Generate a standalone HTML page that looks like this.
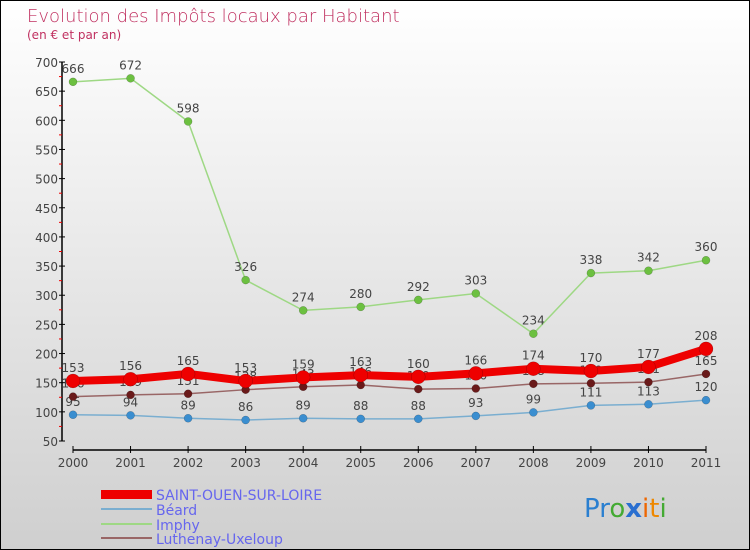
<!DOCTYPE html>
<html><head><meta charset="utf-8"><style>
body{margin:0;}
#c{width:748px;height:548px;border:1px solid #000;background:linear-gradient(#ffffff,#cfcfcf);position:relative;overflow:hidden;font-family:"DejaVu Sans","Liberation Sans",sans-serif;}
</style></head><body>
<div id="c">
<svg id="s" width="748" height="548" xmlns="http://www.w3.org/2000/svg">
<text x="26" y="21" font-size="18" fill="#c03060" font-family="DejaVu Sans, sans-serif" font-weight="200">Evolution des Impôts locaux par Habitant</text>
<text x="26" y="38" font-size="12" fill="#c03060">(en € et par an)</text>
<g id="axes"></g><g id="series"></g>
<g>
<rect x="100" y="489" width="51" height="9" fill="#ee0000"/>
<text x="155" y="499" font-size="14" fill="#6666ee">SAINT-OUEN-SUR-LOIRE</text>
<rect x="100" y="507" width="51" height="2" fill="#7aaed0"/>
<text x="155" y="514" font-size="14" fill="#6666ee">Béard</text>
<rect x="100" y="522" width="51" height="2" fill="#9ed884"/>
<text x="155" y="529" font-size="14" fill="#6666ee">Imphy</text>
<rect x="100" y="536" width="51" height="2" fill="#996666"/>
<text x="155" y="543" font-size="14" fill="#6666ee">Luthenay-Uxeloup</text>
</g>
<g font-size="26" font-family="DejaVu Sans, sans-serif">
<text x="583" y="516"><tspan fill="#2a7fd0">Pr</tspan><tspan fill="#44aa33">o</tspan><tspan fill="#2a6fd0" font-weight="bold">x</tspan><tspan fill="#ee6600">i</tspan><tspan fill="#ee8800">t</tspan><tspan fill="#44aa33">i</tspan></text>
</g>
</svg>
</div>
<script>
const years=["2000","2001","2002","2003","2004","2005","2006","2007","2008","2009","2010","2011"];
const yTicks=[50,100,150,200,250,300,350,400,450,500,550,600,650,700];
const saintOuen=[153,156,165,153,159,163,160,166,174,170,177,208];
const beard=[95,94,89,86,89,88,88,93,99,111,113,120];
const imphy=[666,672,598,326,274,280,292,303,234,338,342,360];
const luthenay=[126,129,131,138,143,146,139,140,148,149,151,165];
const NS="http://www.w3.org/2000/svg";
const X=i=>72+i*(705-72)/(years.length-1);
const Y=v=>440-(v-50)*(440-61)/650;
function mk(p,t,a){const e=document.createElementNS(NS,t);for(const k in a)e.setAttribute(k,a[k]);p.appendChild(e);return e;}
const ax=document.getElementById('axes');
const yl=mk(ax,'line',{x1:61,y1:Y(700),x2:61,y2:Y(50),stroke:'#000','stroke-width':1.5});


yTicks.forEach((v,i)=>{
 const t=mk(ax,'line',{x1:58,x2:64,y1:Y(v),y2:Y(v),stroke:'#000'});
 
 
 if(i<yTicks.length-1){const m=mk(ax,'line',{x1:58,x2:61,y1:Y(v+25),y2:Y(v+25),stroke:'#e00'});
 
 }
 const l=mk(ax,'text',{x:57,y:Y(v)+5,'font-size':12,fill:'#444','text-anchor':'end'});l.textContent=v;
 
 
});
const xl=mk(ax,'line',{x1:X(0),y1:449,x2:X(11),y2:449,stroke:'#000','stroke-width':1.5});


years.forEach((y,i)=>{
 const t=mk(ax,'line',{x1:X(i),x2:X(i),y1:445,y2:452,stroke:'#000'});
 
 
 const l=mk(ax,'text',{x:X(i),y:466,'font-size':12,fill:'#444','text-anchor':'middle'});l.textContent=y;
 
 
});
const sg=document.getElementById('series');
function draw(vals,name,color,dot,w,r){
 const g=mk(sg,'g',{});
 
 
 const p=mk(g,'polyline',{points:vals.map((v,i)=>X(i)+','+Y(v)).join(' '),fill:'none',stroke:color,'stroke-width':w});
 
 
 vals.forEach((v,i)=>{
  const c=mk(g,'circle',{cx:X(i),cy:Y(v),r:r,fill:dot,stroke:'rgba(0,0,0,0.3)','stroke-width':0.5});
  
  
  const l=mk(g,'text',{x:X(i),y:Y(v)-9,'font-size':12,fill:'#444','text-anchor':'middle'});l.textContent=v;
  
  
 });
}
draw(imphy,'imphy','#9ed884','#6cc040',1.5,4);
draw(beard,'beard','#7aaed0','#3a8ed0',1.5,4);
draw(luthenay,'luthenay','#996666','#6a1a1a',1.5,4);
draw(saintOuen,'saint-ouen','#ee0000','#ee0000',8,7);
</script>
</body></html>
